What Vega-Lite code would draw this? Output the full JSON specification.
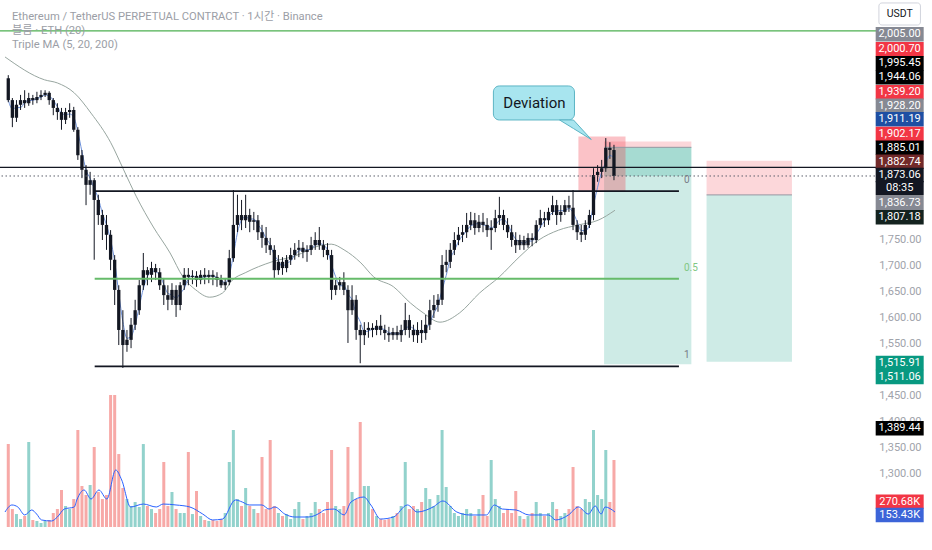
{
"width": 879, "height": 527, "autosize": "none",
"padding": {"left": 0, "top": 0, "right": 53, "bottom": 23},
"background": "#ffffff",
"config": {"view": {"stroke": null}, "font": "Roboto, 'Noto Sans CJK KR', sans-serif"},
"datasets": {
"candles": [
{"t":-80,"o":2061,"h":2067,"l":2015,"c":2019,"v":1062},
{"t":-72,"o":2019,"h":2023,"l":1967,"c":1985,"v":230},
{"t":-64,"o":1985,"h":2019,"l":1977,"c":2010,"v":166},
{"t":-56,"o":2010,"h":2029,"l":2000,"c":2019,"v":102},
{"t":-48,"o":2019,"h":2038,"l":2004,"c":2013,"v":141},
{"t":-40,"o":2013,"h":2033,"l":2008,"c":2023,"v":1088},
{"t":-32,"o":2023,"h":2029,"l":2010,"c":2019,"v":90},
{"t":-24,"o":2019,"h":2035,"l":2013,"c":2025,"v":77},
{"t":-16,"o":2025,"h":2038,"l":2019,"c":2029,"v":51},
{"t":-8,"o":2029,"h":2038,"l":2025,"c":2033,"v":77},
{"t":0,"o":2033,"h":2036,"l":2010,"c":2019,"v":90},
{"t":8,"o":2019,"h":2023,"l":1990,"c":2004,"v":179},
{"t":16,"o":2004,"h":2013,"l":1981,"c":1996,"v":230},
{"t":24,"o":1996,"h":2004,"l":1962,"c":1981,"v":474},
{"t":32,"o":1981,"h":2004,"l":1973,"c":1996,"v":269},
{"t":40,"o":1996,"h":2013,"l":1985,"c":2000,"v":230},
{"t":48,"o":2000,"h":2006,"l":1958,"c":1962,"v":358},
{"t":56,"o":1962,"h":1967,"l":1904,"c":1913,"v":1242},
{"t":64,"o":1913,"h":1923,"l":1869,"c":1885,"v":525},
{"t":72,"o":1885,"h":1894,"l":1817,"c":1856,"v":410},
{"t":80,"o":1856,"h":1881,"l":1837,"c":1865,"v":538},
{"t":88,"o":1865,"h":1869,"l":1712,"c":1827,"v":1024},
{"t":96,"o":1827,"h":1837,"l":1779,"c":1798,"v":448},
{"t":104,"o":1798,"h":1808,"l":1750,"c":1779,"v":358},
{"t":112,"o":1779,"h":1798,"l":1731,"c":1760,"v":410},
{"t":120,"o":1760,"h":1769,"l":1692,"c":1712,"v":1690},
{"t":128,"o":1712,"h":1721,"l":1625,"c":1654,"v":1690},
{"t":136,"o":1654,"h":1663,"l":1548,"c":1577,"v":934},
{"t":144,"o":1577,"h":1615,"l":1504,"c":1548,"v":499},
{"t":152,"o":1548,"h":1577,"l":1535,"c":1558,"v":358},
{"t":160,"o":1558,"h":1600,"l":1542,"c":1587,"v":269},
{"t":168,"o":1587,"h":1635,"l":1577,"c":1615,"v":320},
{"t":176,"o":1615,"h":1673,"l":1606,"c":1663,"v":256},
{"t":184,"o":1663,"h":1725,"l":1654,"c":1692,"v":1062},
{"t":192,"o":1692,"h":1698,"l":1663,"c":1683,"v":269},
{"t":200,"o":1683,"h":1708,"l":1669,"c":1696,"v":230},
{"t":208,"o":1696,"h":1704,"l":1673,"c":1688,"v":179},
{"t":216,"o":1688,"h":1696,"l":1654,"c":1663,"v":230},
{"t":224,"o":1663,"h":1677,"l":1625,"c":1644,"v":832},
{"t":232,"o":1644,"h":1663,"l":1615,"c":1635,"v":269},
{"t":240,"o":1635,"h":1667,"l":1625,"c":1654,"v":448},
{"t":248,"o":1654,"h":1663,"l":1602,"c":1625,"v":230},
{"t":256,"o":1625,"h":1669,"l":1615,"c":1663,"v":179},
{"t":264,"o":1663,"h":1696,"l":1654,"c":1683,"v":179},
{"t":272,"o":1683,"h":1696,"l":1663,"c":1679,"v":960},
{"t":280,"o":1679,"h":1692,"l":1665,"c":1681,"v":166},
{"t":288,"o":1681,"h":1690,"l":1660,"c":1673,"v":461},
{"t":296,"o":1673,"h":1692,"l":1665,"c":1683,"v":141},
{"t":304,"o":1683,"h":1696,"l":1665,"c":1679,"v":90},
{"t":312,"o":1679,"h":1692,"l":1667,"c":1683,"v":77},
{"t":320,"o":1683,"h":1692,"l":1663,"c":1679,"v":90},
{"t":328,"o":1679,"h":1688,"l":1660,"c":1673,"v":77},
{"t":336,"o":1673,"h":1683,"l":1658,"c":1663,"v":102},
{"t":344,"o":1663,"h":1677,"l":1654,"c":1669,"v":179},
{"t":352,"o":1669,"h":1731,"l":1663,"c":1715,"v":832},
{"t":360,"o":1715,"h":1846,"l":1708,"c":1779,"v":1242},
{"t":368,"o":1779,"h":1837,"l":1765,"c":1798,"v":358},
{"t":376,"o":1798,"h":1827,"l":1769,"c":1788,"v":269},
{"t":384,"o":1788,"h":1837,"l":1773,"c":1798,"v":499},
{"t":392,"o":1798,"h":1810,"l":1765,"c":1785,"v":269},
{"t":400,"o":1785,"h":1804,"l":1769,"c":1788,"v":230},
{"t":408,"o":1788,"h":1798,"l":1750,"c":1765,"v":179},
{"t":416,"o":1765,"h":1779,"l":1735,"c":1754,"v":896},
{"t":424,"o":1754,"h":1775,"l":1725,"c":1740,"v":230},
{"t":432,"o":1740,"h":1754,"l":1721,"c":1731,"v":1114},
{"t":440,"o":1731,"h":1740,"l":1677,"c":1692,"v":269},
{"t":448,"o":1692,"h":1721,"l":1683,"c":1708,"v":179},
{"t":456,"o":1708,"h":1717,"l":1683,"c":1696,"v":141},
{"t":464,"o":1696,"h":1721,"l":1688,"c":1712,"v":166},
{"t":472,"o":1712,"h":1735,"l":1702,"c":1721,"v":102},
{"t":480,"o":1721,"h":1744,"l":1712,"c":1731,"v":230},
{"t":488,"o":1731,"h":1750,"l":1717,"c":1735,"v":320},
{"t":496,"o":1735,"h":1746,"l":1715,"c":1727,"v":102},
{"t":504,"o":1727,"h":1740,"l":1708,"c":1731,"v":141},
{"t":512,"o":1731,"h":1756,"l":1721,"c":1740,"v":179},
{"t":520,"o":1740,"h":1765,"l":1731,"c":1750,"v":320},
{"t":528,"o":1750,"h":1775,"l":1731,"c":1740,"v":230},
{"t":536,"o":1740,"h":1750,"l":1717,"c":1731,"v":179},
{"t":544,"o":1731,"h":1744,"l":1712,"c":1721,"v":320},
{"t":552,"o":1721,"h":1731,"l":1635,"c":1654,"v":986},
{"t":560,"o":1654,"h":1673,"l":1644,"c":1663,"v":269},
{"t":568,"o":1663,"h":1679,"l":1654,"c":1669,"v":230},
{"t":576,"o":1669,"h":1688,"l":1644,"c":1654,"v":269},
{"t":584,"o":1654,"h":1663,"l":1552,"c":1615,"v":1024},
{"t":592,"o":1615,"h":1663,"l":1606,"c":1635,"v":448},
{"t":600,"o":1635,"h":1644,"l":1558,"c":1577,"v":358},
{"t":608,"o":1577,"h":1587,"l":1513,"c":1567,"v":1344},
{"t":616,"o":1567,"h":1592,"l":1548,"c":1577,"v":525},
{"t":624,"o":1577,"h":1592,"l":1562,"c":1581,"v":525},
{"t":632,"o":1581,"h":1590,"l":1563,"c":1577,"v":230},
{"t":640,"o":1577,"h":1596,"l":1567,"c":1585,"v":141},
{"t":648,"o":1585,"h":1606,"l":1567,"c":1577,"v":102},
{"t":656,"o":1577,"h":1587,"l":1558,"c":1571,"v":90},
{"t":664,"o":1571,"h":1583,"l":1554,"c":1567,"v":102},
{"t":672,"o":1567,"h":1581,"l":1558,"c":1573,"v":141},
{"t":680,"o":1573,"h":1585,"l":1558,"c":1567,"v":179},
{"t":688,"o":1567,"h":1587,"l":1554,"c":1577,"v":269},
{"t":696,"o":1577,"h":1629,"l":1567,"c":1596,"v":832},
{"t":704,"o":1596,"h":1606,"l":1562,"c":1577,"v":230},
{"t":712,"o":1577,"h":1587,"l":1554,"c":1567,"v":269},
{"t":720,"o":1567,"h":1592,"l":1552,"c":1577,"v":230},
{"t":728,"o":1577,"h":1596,"l":1552,"c":1571,"v":320},
{"t":736,"o":1571,"h":1606,"l":1558,"c":1587,"v":499},
{"t":744,"o":1587,"h":1635,"l":1577,"c":1615,"v":358},
{"t":752,"o":1615,"h":1644,"l":1600,"c":1625,"v":269},
{"t":760,"o":1625,"h":1646,"l":1612,"c":1635,"v":410},
{"t":768,"o":1635,"h":1721,"l":1625,"c":1702,"v":1242},
{"t":776,"o":1702,"h":1731,"l":1688,"c":1708,"v":512},
{"t":784,"o":1708,"h":1744,"l":1696,"c":1731,"v":269},
{"t":792,"o":1731,"h":1765,"l":1721,"c":1750,"v":179},
{"t":800,"o":1750,"h":1775,"l":1740,"c":1760,"v":141},
{"t":808,"o":1760,"h":1779,"l":1746,"c":1765,"v":179},
{"t":816,"o":1765,"h":1802,"l":1754,"c":1779,"v":230},
{"t":824,"o":1779,"h":1804,"l":1769,"c":1788,"v":179},
{"t":832,"o":1788,"h":1802,"l":1760,"c":1773,"v":141},
{"t":840,"o":1773,"h":1798,"l":1765,"c":1785,"v":230},
{"t":848,"o":1785,"h":1802,"l":1765,"c":1779,"v":410},
{"t":856,"o":1779,"h":1792,"l":1756,"c":1769,"v":141},
{"t":864,"o":1769,"h":1788,"l":1731,"c":1773,"v":858},
{"t":872,"o":1773,"h":1808,"l":1765,"c":1792,"v":358},
{"t":880,"o":1792,"h":1833,"l":1779,"c":1798,"v":269},
{"t":888,"o":1798,"h":1808,"l":1769,"c":1779,"v":179},
{"t":896,"o":1779,"h":1792,"l":1754,"c":1765,"v":230},
{"t":904,"o":1765,"h":1779,"l":1737,"c":1750,"v":179},
{"t":912,"o":1750,"h":1765,"l":1725,"c":1740,"v":461},
{"t":920,"o":1740,"h":1760,"l":1731,"c":1750,"v":141},
{"t":928,"o":1750,"h":1758,"l":1731,"c":1740,"v":102},
{"t":936,"o":1740,"h":1763,"l":1735,"c":1754,"v":141},
{"t":944,"o":1754,"h":1763,"l":1738,"c":1750,"v":179},
{"t":952,"o":1750,"h":1788,"l":1744,"c":1779,"v":320},
{"t":960,"o":1779,"h":1808,"l":1773,"c":1792,"v":179},
{"t":968,"o":1792,"h":1804,"l":1775,"c":1788,"v":141},
{"t":976,"o":1788,"h":1812,"l":1779,"c":1804,"v":179},
{"t":984,"o":1804,"h":1835,"l":1798,"c":1817,"v":320},
{"t":992,"o":1817,"h":1827,"l":1779,"c":1798,"v":230},
{"t":1000,"o":1798,"h":1817,"l":1785,"c":1804,"v":141},
{"t":1008,"o":1804,"h":1827,"l":1798,"c":1817,"v":179},
{"t":1016,"o":1817,"h":1835,"l":1804,"c":1812,"v":230},
{"t":1024,"o":1812,"h":1846,"l":1769,"c":1779,"v":768},
{"t":1032,"o":1779,"h":1788,"l":1750,"c":1765,"v":269},
{"t":1040,"o":1765,"h":1779,"l":1746,"c":1760,"v":230},
{"t":1048,"o":1760,"h":1788,"l":1750,"c":1779,"v":358},
{"t":1056,"o":1779,"h":1808,"l":1773,"c":1798,"v":320},
{"t":1064,"o":1798,"h":1888,"l":1788,"c":1875,"v":1242},
{"t":1072,"o":1875,"h":1894,"l":1862,"c":1881,"v":410},
{"t":1080,"o":1881,"h":1904,"l":1869,"c":1888,"v":358},
{"t":1088,"o":1888,"h":1946,"l":1881,"c":1927,"v":986},
{"t":1096,"o":1927,"h":1938,"l":1906,"c":1923,"v":320},
{"t":1104,"o":1923,"h":1933,"l":1865,"c":1873.06,"v":858}
],
"vma": [
{"t":-86.4,"vm":192},{"t":-72.9,"vm":282},{"t":-61.3,"vm":256},{"t":-47.8,"vm":154},{"t":-34.2,"vm":218},{"t":-24.6,"vm":166},{"t":-14.9,"vm":90},{"t":4.4,"vm":77},{"t":16.0,"vm":128},{"t":29.5,"vm":230},{"t":48.9,"vm":256},{"t":54.7,"vm":358},{"t":68.2,"vm":474},{"t":81.7,"vm":358},{"t":97.2,"vm":474},{"t":112.7,"vm":358},{"t":130.0,"vm":730},{"t":141.7,"vm":602},{"t":159.1,"vm":256},{"t":184.2,"vm":294},{"t":209.3,"vm":256},{"t":222.8,"vm":294},{"t":247.9,"vm":282},{"t":275.0,"vm":256},{"t":300.1,"vm":166},{"t":319.4,"vm":90},{"t":338.8,"vm":102},{"t":363.9,"vm":346},{"t":377.4,"vm":320},{"t":390.9,"vm":282},{"t":416.0,"vm":282},{"t":429.6,"vm":230},{"t":441.2,"vm":256},{"t":460.5,"vm":166},{"t":479.8,"vm":128},{"t":506.9,"vm":128},{"t":532.0,"vm":192},{"t":537.8,"vm":218},{"t":557.1,"vm":230},{"t":576.5,"vm":154},{"t":590.0,"vm":320},{"t":615.1,"vm":384},{"t":628.7,"vm":282},{"t":648.0,"vm":102},{"t":673.1,"vm":128},{"t":700.2,"vm":282},{"t":719.5,"vm":192},{"t":750.4,"vm":256},{"t":769.7,"vm":333},{"t":796.8,"vm":192},{"t":821.9,"vm":154},{"t":854.7,"vm":154},{"t":870.2,"vm":282},{"t":885.6,"vm":230},{"t":912.7,"vm":218},{"t":937.9,"vm":154},{"t":976.5,"vm":154},{"t":990.0,"vm":90},{"t":1015.1,"vm":154},{"t":1034.4,"vm":256},{"t":1053.8,"vm":166},{"t":1067.3,"vm":269},{"t":1078.9,"vm":166},{"t":1086.7,"vm":256},{"t":1106.0,"vm":192}
],
"ma200": [
{"t":-86.4,"p":2102},{"t":-9.1,"p":2058},{"t":16,"p":2052},{"t":48.9,"p":2033},{"t":81.7,"p":1994},{"t":120.4,"p":1937},{"t":145.5,"p":1885},{"t":170.6,"p":1833},{"t":203.5,"p":1775},{"t":236.3,"p":1725},{"t":261.5,"p":1679},{"t":286.6,"p":1654},{"t":313.7,"p":1640},{"t":338.8,"p":1648},{"t":358.1,"p":1673},{"t":383.2,"p":1687},{"t":435.4,"p":1708},{"t":479.8,"p":1719},{"t":532,"p":1740},{"t":551.3,"p":1742},{"t":576.5,"p":1731},{"t":609.3,"p":1706},{"t":634.4,"p":1679},{"t":673.1,"p":1660},{"t":705.9,"p":1629},{"t":731,"p":1610},{"t":763.9,"p":1592},{"t":802.5,"p":1610},{"t":841.2,"p":1648},{"t":879.8,"p":1679},{"t":918.5,"p":1717},{"t":957.1,"p":1750},{"t":995.8,"p":1769},{"t":1034.4,"p":1779},{"t":1073,"p":1788},{"t":1106,"p":1807.18}
],
"yticks": [{"p":1300},{"p":1350},{"p":1400},{"p":1450},{"p":1550},{"p":1600},{"p":1650},{"p":1700},{"p":1750}],
"hlines": [{"p":2152,"k":"green"},{"p":1889.5,"k":"black"}],
"current": [{"p":1873.06}],
"fib": [
{"lvl":"0","p":1844,"t1":88.9,"t2":1231,"k":"black"},
{"lvl":"0.5","p":1675.5,"t1":88.9,"t2":1231,"k":"green"},
{"lvl":"1","p":1507,"t1":88.9,"t2":1231,"k":"black"}
],
"boxes": [
{"t1":1084.7,"t2":1255.3,"p1":1511.06,"p2":1928.2,"k":"target"},
{"t1":1084.7,"t2":1255.3,"p1":1873.06,"p2":1928.2,"k":"target"},
{"t1":1084.7,"t2":1255.3,"p1":1928.2,"p2":1939.2,"k":"stop"},
{"t1":1285.0,"t2":1451.9,"p1":1515.91,"p2":1836.73,"k":"target"},
{"t1":1285.0,"t2":1451.9,"p1":1836.73,"p2":1902.17,"k":"stop"},
{"t1":1034.5,"t2":1126.6,"p1":1844,"p2":1949,"k":"dev"}
],
"entries": [{"t1":1084.7,"t2":1255.3,"p":1928.2},{"t1":1285.0,"t2":1451.9,"p":1836.73}],
"bubble": [{"txt":"Deviation","t1":868.3,"t2":1026.8,"p1":2046.2,"p2":1980.8,"tc":948.5,"pc":2013.5}],
"tail": [{"t":997.7,"a":1980.8,"b":1980.8},{"t":1024.8,"a":1980.8,"b":1964.4},{"t":1059.6,"a":1943.3,"b":1943.3}],
"heading": [
{"txt":"Ethereum / TetherUS PERPETUAL CONTRACT · 1시간 · Binance","p":2178.8},
{"txt":"블룸 · ETH (20)","p":2151.9},
{"txt":"Triple MA (5, 20, 200)","p":2125.0}
],
"tags": [
{"txt":"2,005.00","p":2145.6,"k":"grey"},
{"txt":"2,000.70","p":2116.7,"k":"red"},
{"txt":"1,995.45","p":2089.8,"k":"black"},
{"txt":"1,944.06","p":2062.9,"k":"black"},
{"txt":"1,939.20","p":2034.0,"k":"red"},
{"txt":"1,928.20","p":2008.3,"k":"grey"},
{"txt":"1,911.19","p":1982.1,"k":"blue"},
{"txt":"1,902.17","p":1953.8,"k":"red"},
{"txt":"1,885.01","p":1927.5,"k":"black"},
{"txt":"1,882.74","p":1900.5,"k":"maroon"},
{"txt":"1,873.06","p":1875.0,"k":"navy"},
{"txt":"08:35","p":1849.4,"k":"navy"},
{"txt":"1,836.73","p":1820.6,"k":"grey"},
{"txt":"1,807.18","p":1793.7,"k":"dkgreen"},
{"txt":"1,515.91","p":1513.5,"k":"green"},
{"txt":"1,511.06","p":1486.5,"k":"green"},
{"txt":"1,389.44","p":1387.9,"k":"black"},
{"txt":"270.68K","p":1246.8,"k":"red"},
{"txt":"153.43K","p":1221.2,"k":"vblue"}
],
"unit": [{"txt":"USDT","t1":1621.9,"t2":1703.1,"p1":2205.8,"p2":2163.4,"tc":1662.5,"pc":2184.6}]
},
"resolve": {"scale": {"y": "independent"}},
"layer": [
{
"resolve": {"scale": {"color": "independent", "opacity": "independent"}},
"layer": [
{"data": {"name": "boxes"},
 "mark": {"type": "rect"},
 "encoding": {
  "x": {"field": "t1", "type": "quantitative", "scale": {"domain": [-86.4, 1612.3], "nice": false, "zero": false}, "axis": null},
  "x2": {"field": "t2"},
  "y": {"field": "p1", "type": "quantitative", "scale": {"domain": [1198.1, 2211.5], "nice": false, "zero": false}, "axis": null},
  "y2": {"field": "p2"},
  "color": {"field": "k", "type": "nominal", "scale": {"domain": ["target", "stop", "dev"], "range": ["#089981", "#f23645", "#f23645"]}, "legend": null},
  "opacity": {"condition": {"test": "datum.k == 'dev'", "value": 0.3}, "value": 0.2}}},
{"data": {"name": "entries"},
 "mark": {"type": "rule", "color": "#9598a1", "strokeWidth": 1},
 "encoding": {
  "x": {"field": "t1", "type": "quantitative", "scale": {"domain": [-86.4, 1612.3], "nice": false, "zero": false}, "axis": null},
  "x2": {"field": "t2"},
  "y": {"field": "p", "type": "quantitative", "scale": {"domain": [1198.1, 2211.5], "nice": false, "zero": false}, "axis": null}}},
{"data": {"name": "ma200"},
 "mark": {"type": "line", "color": "#98a6a0", "strokeWidth": 1, "interpolate": "monotone"},
 "encoding": {
  "x": {"field": "t", "type": "quantitative", "scale": {"domain": [-86.4, 1612.3], "nice": false, "zero": false}, "axis": null},
  "y": {"field": "p", "type": "quantitative", "scale": {"domain": [1198.1, 2211.5], "nice": false, "zero": false}, "axis": null}}},
{"data": {"name": "candles"},
 "transform": [{"window": [{"op": "mean", "field": "c", "as": "ma"}], "frame": [-2, 0], "sort": [{"field": "t"}]}],
 "mark": {"type": "line", "color": "#6f92da", "strokeWidth": 1, "interpolate": "monotone"},
 "encoding": {
  "x": {"field": "t", "type": "quantitative", "scale": {"domain": [-86.4, 1612.3], "nice": false, "zero": false}, "axis": null},
  "y": {"field": "ma", "type": "quantitative", "scale": {"domain": [1198.1, 2211.5], "nice": false, "zero": false}, "axis": null}}},
{"data": {"name": "candles"},
 "mark": {"type": "rule", "color": "#131722", "strokeWidth": 1},
 "encoding": {
  "x": {"field": "t", "type": "quantitative", "scale": {"domain": [-86.4, 1612.3], "nice": false, "zero": false},
   "axis": {"values": [0, 96, 192, 288, 384, 480, 576, 720, 816, 912, 1008, 1104, 1200, 1296, 1464, 1560],
    "labelExpr": "datum.value == 0 ? '6월' : datum.value == 720 ? '7월' : datum.value == 1464 ? '8월' : datum.value < 720 ? (datum.value/24+1) : datum.value < 1464 ? ((datum.value-720)/24+1) : ((datum.value-1464)/24+1)",
    "title": null, "domain": false, "ticks": false, "grid": true, "gridColor": "#f2f3f6", "labelColor": "#8f929b", "labelFontSize": 11, "labelPadding": 5, "labelOverlap": false, "labelFlush": false}},
  "y": {"field": "l", "type": "quantitative", "scale": {"domain": [1198.1, 2211.5], "nice": false, "zero": false}, "axis": null},
  "y2": {"field": "h"}}},
{"data": {"name": "candles"},
 "mark": {"type": "bar", "width": 3.3, "color": "#131722"},
 "encoding": {
  "x": {"field": "t", "type": "quantitative", "scale": {"domain": [-86.4, 1612.3], "nice": false, "zero": false}, "axis": null},
  "y": {"field": "o", "type": "quantitative", "scale": {"domain": [1198.1, 2211.5], "nice": false, "zero": false}, "axis": null},
  "y2": {"field": "c"}}},
{"data": {"name": "hlines"},
 "mark": {"type": "rule", "strokeWidth": 1.3},
 "encoding": {
  "y": {"field": "p", "type": "quantitative", "scale": {"domain": [1198.1, 2211.5], "nice": false, "zero": false}, "axis": null},
  "color": {"field": "k", "type": "nominal", "scale": {"domain": ["green", "black"], "range": ["#4caf50", "#131722"]}, "legend": null}}},
{"data": {"name": "current"},
 "mark": {"type": "rule", "strokeWidth": 1, "color": "#5d606b", "strokeDash": [1.5, 2.5]},
 "encoding": {
  "y": {"field": "p", "type": "quantitative", "scale": {"domain": [1198.1, 2211.5], "nice": false, "zero": false}, "axis": null}}},
{"data": {"name": "fib"},
 "mark": {"type": "rule", "strokeWidth": 1.8},
 "encoding": {
  "x": {"field": "t1", "type": "quantitative", "scale": {"domain": [-86.4, 1612.3], "nice": false, "zero": false}, "axis": null},
  "x2": {"field": "t2"},
  "y": {"field": "p", "type": "quantitative", "scale": {"domain": [1198.1, 2211.5], "nice": false, "zero": false}, "axis": null},
  "color": {"field": "k", "type": "nominal", "scale": {"domain": ["green", "black"], "range": ["#66bb6a", "#131722"]}, "legend": null}}},
{"data": {"name": "fib"},
 "mark": {"type": "text", "align": "left", "baseline": "middle", "dx": 5, "dy": -11, "fontSize": 10},
 "encoding": {
  "x": {"field": "t2", "type": "quantitative", "scale": {"domain": [-86.4, 1612.3], "nice": false, "zero": false}, "axis": null},
  "y": {"field": "p", "type": "quantitative", "scale": {"domain": [1198.1, 2211.5], "nice": false, "zero": false}, "axis": null},
  "text": {"field": "lvl"},
  "color": {"field": "k", "type": "nominal", "scale": {"domain": ["green", "black"], "range": ["#81c784", "#787b86"]}, "legend": null}}},
{"data": {"name": "bubble"},
 "mark": {"type": "rect", "fill": "#a8e5ef", "stroke": "#5cb4c4", "strokeWidth": 1, "cornerRadius": 6},
 "encoding": {
  "x": {"field": "t1", "type": "quantitative", "scale": {"domain": [-86.4, 1612.3], "nice": false, "zero": false}, "axis": null},
  "x2": {"field": "t2"},
  "y": {"field": "p1", "type": "quantitative", "scale": {"domain": [1198.1, 2211.5], "nice": false, "zero": false}, "axis": null},
  "y2": {"field": "p2"}}},
{"data": {"name": "tail"},
 "mark": {"type": "area", "fill": "#a8e5ef", "stroke": "#5cb4c4", "strokeWidth": 1},
 "encoding": {
  "x": {"field": "t", "type": "quantitative", "scale": {"domain": [-86.4, 1612.3], "nice": false, "zero": false}, "axis": null},
  "y": {"field": "a", "type": "quantitative", "scale": {"domain": [1198.1, 2211.5], "nice": false, "zero": false}, "axis": null},
  "y2": {"field": "b"}}},
{"data": {"name": "bubble"},
 "mark": {"type": "text", "fontSize": 15, "color": "#131722", "align": "center", "baseline": "middle"},
 "encoding": {
  "x": {"field": "tc", "type": "quantitative", "scale": {"domain": [-86.4, 1612.3], "nice": false, "zero": false}, "axis": null},
  "y": {"field": "pc", "type": "quantitative", "scale": {"domain": [1198.1, 2211.5], "nice": false, "zero": false}, "axis": null},
  "text": {"field": "txt"}}},
{"data": {"name": "heading"},
 "mark": {"type": "text", "align": "left", "baseline": "middle", "dx": 7, "fontSize": 11.2, "color": "#9b9ea6", "clip": false},
 "encoding": {
  "x": {"datum": -86.4, "type": "quantitative", "scale": {"domain": [-86.4, 1612.3], "nice": false, "zero": false}, "axis": null},
  "y": {"field": "p", "type": "quantitative", "scale": {"domain": [1198.1, 2211.5], "nice": false, "zero": false}, "axis": null},
  "text": {"field": "txt"}}},
{"data": {"name": "yticks"},
 "mark": {"type": "text", "color": "#9fa3ab", "fontSize": 11, "align": "center", "baseline": "middle", "clip": false},
 "encoding": {
  "x": {"datum": 1664, "type": "quantitative", "scale": {"domain": [-86.4, 1612.3], "nice": false, "zero": false}, "axis": null},
  "y": {"field": "p", "type": "quantitative", "scale": {"domain": [1198.1, 2211.5], "nice": false, "zero": false}, "axis": null},
  "text": {"field": "p", "type": "quantitative", "format": ",.2f"}}},
{"data": {"name": "tags"},
 "mark": {"type": "point", "shape": "M-1,-0.3L1,-0.3L1,0.3L-1,0.3Z", "filled": true, "size": 2304, "opacity": 1, "strokeWidth": 0, "clip": false},
 "encoding": {
  "x": {"datum": 1662.5, "type": "quantitative", "scale": {"domain": [-86.4, 1612.3], "nice": false, "zero": false}, "axis": null},
  "y": {"field": "p", "type": "quantitative", "scale": {"domain": [1198.1, 2211.5], "nice": false, "zero": false}, "axis": null},
  "color": {"field": "k", "type": "nominal", "scale": {"domain": ["grey", "red", "black", "blue", "maroon", "navy", "dkgreen", "green", "vblue"], "range": ["#868993", "#f23645", "#000000", "#1e4fa3", "#722a2a", "#131722", "#14231f", "#089981", "#3c64d8"]}, "legend": null}}},
{"data": {"name": "tags"},
 "mark": {"type": "text", "color": "#ffffff", "fontSize": 11, "align": "center", "baseline": "middle", "clip": false},
 "encoding": {
  "x": {"datum": 1662.5, "type": "quantitative", "scale": {"domain": [-86.4, 1612.3], "nice": false, "zero": false}, "axis": null},
  "y": {"field": "p", "type": "quantitative", "scale": {"domain": [1198.1, 2211.5], "nice": false, "zero": false}, "axis": null},
  "text": {"field": "txt"}}},
{"data": {"name": "unit"},
 "mark": {"type": "rect", "fill": "#ffffff", "stroke": "#d1d4dc", "strokeWidth": 1, "cornerRadius": 3, "clip": false},
 "encoding": {
  "x": {"field": "t1", "type": "quantitative", "scale": {"domain": [-86.4, 1612.3], "nice": false, "zero": false}, "axis": null},
  "x2": {"field": "t2"},
  "y": {"field": "p1", "type": "quantitative", "scale": {"domain": [1198.1, 2211.5], "nice": false, "zero": false}, "axis": null},
  "y2": {"field": "p2"}}},
{"data": {"name": "unit"},
 "mark": {"type": "text", "fontSize": 10.5, "color": "#131722", "align": "center", "baseline": "middle", "clip": false},
 "encoding": {
  "x": {"field": "tc", "type": "quantitative", "scale": {"domain": [-86.4, 1612.3], "nice": false, "zero": false}, "axis": null},
  "y": {"field": "pc", "type": "quantitative", "scale": {"domain": [1198.1, 2211.5], "nice": false, "zero": false}, "axis": null},
  "text": {"field": "txt"}}}
]
},
{
"layer": [
{"data": {"name": "candles"},
 "mark": {"type": "bar", "width": 3, "opacity": 0.5},
 "encoding": {
  "x": {"field": "t", "type": "quantitative", "scale": {"domain": [-86.4, 1612.3], "nice": false, "zero": false}, "axis": null},
  "y": {"field": "v", "type": "quantitative", "scale": {"domain": [0, 6746], "nice": false}, "axis": null},
  "color": {"condition": {"test": "datum.c >= datum.o", "value": "#26a69a"}, "value": "#ef5350"}}},
{"data": {"name": "vma"},
 "mark": {"type": "line", "color": "#2962ff", "strokeWidth": 1, "interpolate": "monotone"},
 "encoding": {
  "x": {"field": "t", "type": "quantitative", "scale": {"domain": [-86.4, 1612.3], "nice": false, "zero": false}, "axis": null},
  "y": {"field": "vm", "type": "quantitative", "scale": {"domain": [0, 6746], "nice": false}, "axis": null}}}
]
}
]
}
